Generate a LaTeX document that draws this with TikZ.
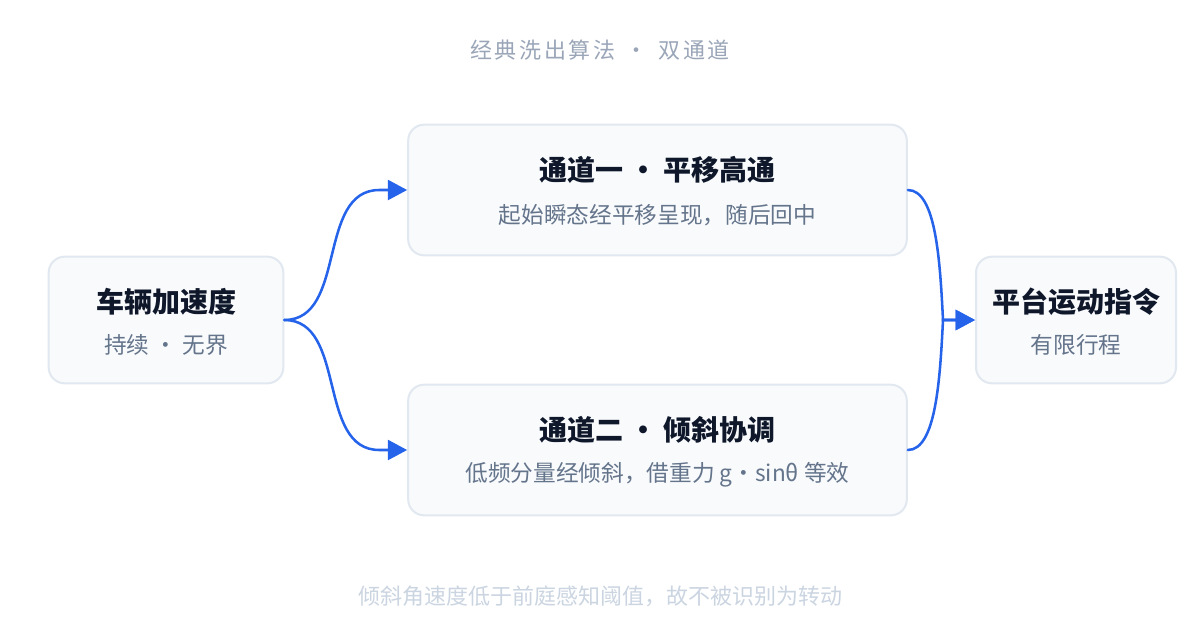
\documentclass[tikz,border=0pt]{standalone}
\usepackage{fontspec}
\setmainfont{Noto Sans CJK SC}
\newfontfamily\spacedcjk[LetterSpace=12]{Noto Sans CJK SC}
\usetikzlibrary{arrows.meta}
\definecolor{linkblue}{HTML}{2563EB}
\definecolor{boxfill}{HTML}{F8FAFC}
\definecolor{boxline}{HTML}{E2E8F0}
\definecolor{ttlink}{HTML}{0F172A}
\definecolor{subink}{HTML}{64748B}
\definecolor{headink}{HTML}{9AA6B8}
\definecolor{footink}{HTML}{CBD5E1}

\begin{document}
\begin{tikzpicture}[
  x=0.75pt, y=-0.75pt,
  stage/.style={draw=boxline, line width=1.5pt, fill=boxfill, rounded corners=12pt,
                minimum height=95pt, inner sep=0pt},
  wide/.style={stage, minimum width=374pt, minimum height=98pt},
  ttl/.style={text=ttlink, font=\fontsize{21}{25}\selectfont\bfseries},
  sub/.style={text=subink, font=\fontsize{17}{20}\selectfont},
  note/.style={text=footink, font=\fontsize{16.5}{20}\selectfont},
  headnote/.style={text=headink, font=\spacedcjk\fontsize{16.5}{20}\selectfont},
  link/.style={draw=linkblue, line width=1.9pt, line cap=round,
               -{Triangle[length=14.5pt,width=15pt]}}
]
\path[use as bounding box, fill=white] (0,0) rectangle (1200,640);

\node[headnote] (head) at (600,50) {经典洗出算法\hspace{8pt}·\hspace{8pt}双通道};
\node[note] (foot) at (600,596) {倾斜角速度低于前庭感知阈值，故不被识别为转动};

\node[stage, minimum width=176pt] (accel) at (166,320) {};
\node[wide] (transl) at (657.5,190) {};
\node[wide] (tilt) at (657.5,450) {};
\node[stage, minimum width=150pt] (platform) at (1076,320) {};

\node[ttl] (accel-t) at ([yshift=13.5pt]accel.center) {车辆加速度};
\node[sub] (accel-s) at ([yshift=-18.5pt]accel.center) {持续 · 无界};
\node[ttl] (transl-t) at ([yshift=15pt]transl.center) {通道一 · 平移高通};
\node[sub] (transl-s) at ([yshift=-18.5pt]transl.center) {起始瞬态经平移呈现，随后回中};
\node[ttl] (tilt-t) at ([yshift=15pt]tilt.center) {通道二 · 倾斜协调};
\node[sub] (tilt-s) at ([yshift=-18.5pt]tilt.center) {低频分量经倾斜，借重力 g·sinθ 等效};
\node[ttl] (platform-t) at ([yshift=13.5pt]platform.center) {平台运动指令};
\node[sub] (platform-s) at ([yshift=-18.5pt]platform.center) {有限行程};

\coordinate (merge) at (943,320);

\draw[link] (accel.east) to[out=0,in=180] ++(95,-130) -- (transl.west);
\draw[link] (accel.east) to[out=0,in=180] ++(95,130) -- (tilt.west);
\draw[link] (transl.east) .. controls +(28,0) and +(-3,-60) .. (merge) -- (platform.west);
\draw[link] (tilt.east) .. controls +(28,0) and +(-3,60) .. (merge) -- (platform.west);
\end{tikzpicture}
\end{document}
